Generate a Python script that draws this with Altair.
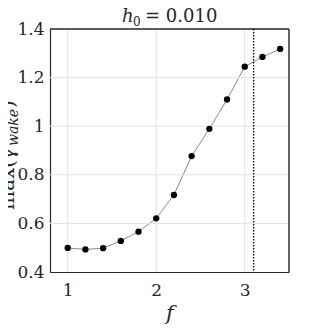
import altair as alt
import pandas as pd

f_vals = [1.0, 1.2, 1.4, 1.6, 1.8, 2.0, 2.2, 2.4, 2.6, 2.8, 3.0, 3.2, 3.4]
gamma_max = [0.499, 0.493, 0.498, 0.528, 0.566, 0.621, 0.717, 0.877, 0.989, 1.110, 1.245, 1.285, 1.318]
f_limit = [3.1]
x_ticks = [1, 2, 3]
y_ticks = [0.4, 0.6, 0.8, 1.0, 1.2, 1.4]
y_grid = [0.6, 0.8, 1.0, 1.2]
x_range = [0.8, 3.5]
y_range = [0.4, 1.4]

df = pd.DataFrame({"f": f_vals, "g": gamma_max})
vdf = pd.DataFrame({"f": f_limit})

FONT = "DejaVu Serif"
INK = "#262626"
GRID = "#e3e3e3"

xscale = alt.Scale(domain=x_range, nice=False, zero=False)
yscale = alt.Scale(domain=y_range, nice=False, zero=False)

x = alt.X("f:Q", scale=xscale,
          axis=alt.Axis(values=x_ticks, title="f", format="~g", titleFontStyle="italic",
                        titleFontWeight="normal", titleFontSize=21, titleFont=FONT,
                        titlePadding=4, labelFont=FONT, labelFontSize=17,
                        labelPadding=10, ticks=False, domain=True, domainColor=INK,
                        domainWidth=1.2, grid=False, labelColor=INK, titleColor=INK))
y = alt.Y("g:Q", scale=yscale,
          axis=alt.Axis(values=y_ticks, title=None, format=".1~f",
                        labelFont=FONT, labelFontSize=17, labelPadding=6,
                        ticks=False, domain=True, domainColor=INK, domainWidth=1.2,
                        grid=False, labelColor=INK))

xgrid = alt.Chart(pd.DataFrame({"f": x_ticks})).mark_rule(color=GRID, strokeWidth=1).encode(
    x=alt.X("f:Q"))
ygrid = alt.Chart(pd.DataFrame({"g": y_grid})).mark_rule(color=GRID, strokeWidth=1).encode(
    y=alt.Y("g:Q"))
# top and right edges of the box
top_edge = alt.Chart(pd.DataFrame({"g": [y_range[1]]})).mark_rule(color=INK, strokeWidth=1.4).encode(
    y=alt.Y("g:Q"))
right_edge = alt.Chart(pd.DataFrame({"f": [x_range[1]]})).mark_rule(color=INK, strokeWidth=1.4).encode(
    x=alt.X("f:Q"))

line = alt.Chart(df).mark_line(color="#7a7a7a", strokeWidth=0.9).encode(x=x, y=y)
pts = alt.Chart(df).mark_point(filled=True, color="black", size=40, opacity=1).encode(x="f:Q", y="g:Q")
vline = alt.Chart(vdf).mark_rule(color="black", strokeWidth=1.3, strokeDash=[1.5, 1.5]).encode(x="f:Q")


def txt(t, xv, yv, size, style="normal", angle=0, align="left"):
    return alt.Chart(pd.DataFrame({"t": [t]})).mark_text(
        angle=angle, align=align, baseline="alphabetic", font=FONT, fontSize=size,
        fontStyle=style, color=INK
    ).encode(text="t:N", x=alt.value(xv), y=alt.value(yv))


# y-axis title: max(γ_wake), rotated
ytxt1 = txt("max(γ", -36, 181, 20, angle=270)
ytxt2 = txt("wake", -32, 117, 14, style="italic", angle=270)
ytxt3 = txt(")", -36, 79, 20, angle=270)

# chart title: h_0 = 0.010
ttl1 = txt("h", 72, -7, 18, style="italic")
ttl2 = txt("0", 83, -3, 12)
ttl3 = txt("= 0.010", 95, -7, 18)

chart = alt.layer(line, xgrid, ygrid, top_edge, right_edge, vline, pts,
                  ytxt1, ytxt2, ytxt3, ttl1, ttl2, ttl3).properties(
    width=239, height=243,
    autosize=alt.AutoSizeParams(type="none"),
    padding={"left": 42, "top": 21, "right": 24, "bottom": 62},
).configure_view(stroke=None)

chart.save("out.html", embed_options={"renderer": "svg", "actions": False})
